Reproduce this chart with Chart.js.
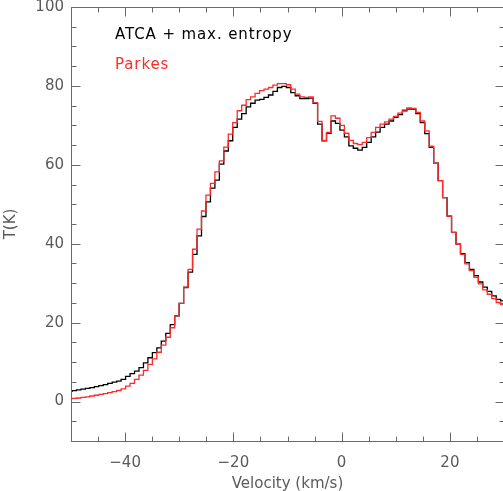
<!DOCTYPE html>
<html>
<head>
<meta charset="utf-8">
<script src="https://cdn.jsdelivr.net/npm/chart.js@4.4.1/dist/chart.umd.min.js"></script>
<style>
  html, body { margin: 0; padding: 0; background: #fff; overflow: hidden; }
  canvas { display: block; }
</style>
</head>
<body>
<canvas id="spectrumChart" width="506" height="491"></canvas>
<script>
// Channel velocities (km/s), channel width ~0.825 km/s
const velocity = [
  -50.23, -49.40, -48.58, -47.75, -46.93, -46.10, -45.28, -44.45, -43.63, -42.80,
  -41.98, -41.15, -40.33, -39.50, -38.68, -37.85, -37.03, -36.20, -35.38, -34.55,
  -33.73, -32.90, -32.08, -31.25, -30.43, -29.60, -28.78, -27.95, -27.13, -26.30,
  -25.48, -24.65, -23.83, -23.00, -22.18, -21.35, -20.53, -19.70, -18.88, -18.05,
  -17.23, -16.40, -15.58, -14.75, -13.93, -13.10, -12.28, -11.45, -10.63, -9.80,
  -8.98, -8.15, -7.33, -6.50, -5.68, -4.85, -4.03, -3.20, -2.38, -1.55,
  -0.73, 0.10, 0.92, 1.75, 2.57, 3.40, 4.22, 5.05, 5.87, 6.70,
  7.52, 8.35, 9.17, 10.00, 10.82, 11.65, 12.47, 13.30, 14.12, 14.95,
  15.77, 16.60, 17.42, 18.25, 19.07, 19.90, 20.72, 21.55, 22.37, 23.20,
  24.02, 24.85, 25.67, 26.50, 27.32, 28.15, 28.97, 29.80
];

// Brightness temperature T(K), ATCA + max. entropy
const atcaTemp = [
  2.6, 2.75, 2.95, 3.15, 3.35, 3.55, 3.8, 4.05, 4.3, 4.6,
  4.9, 5.2, 5.6, 6.4, 7.1, 7.7, 8.6, 9.8, 11.1, 12.4,
  13.6, 15.3, 17.3, 19.5, 21.7, 24.9, 28.9, 32.8, 37.3, 42.0,
  46.9, 50.6, 54.1, 56.1, 60.2, 63.5, 66.1, 69.5, 71.6, 73.0,
  74.7, 75.6, 76.4, 76.6, 77.1, 77.7, 78.6, 79.6, 79.9, 79.6,
  78.3, 77.5, 76.8, 76.8, 76.9, 75.6, 70.3, 66.1, 68.0, 71.1,
  70.5, 68.8, 67.1, 64.8, 64.2, 63.7, 64.4, 65.7, 67.1, 68.3,
  69.5, 70.3, 71.1, 72.0, 72.7, 73.7, 74.1, 74.1, 73.0, 70.7,
  67.9, 64.4, 60.4, 56.0, 51.7, 47.0, 42.9, 39.9, 37.5, 35.2,
  33.5, 31.9, 30.3, 29.0, 27.9, 26.8, 25.9, 25.5
];

// Brightness temperature T(K), Parkes single dish
const parkesTemp = [
  0.7, 0.8, 0.9, 1.05, 1.2, 1.4, 1.6, 1.8, 2.0, 2.25,
  2.5, 2.8, 3.2, 3.9, 4.6, 5.6, 6.7, 7.9, 9.4, 10.8,
  12.5, 14.3, 16.3, 18.7, 21.7, 24.9, 29.0, 33.5, 38.6, 43.7,
  48.3, 52.3, 55.3, 58.2, 61.0, 64.5, 67.8, 70.7, 73.7, 75.1,
  76.5, 77.2, 78.1, 78.8, 79.2, 79.6, 80.2, 80.6, 80.6, 80.3,
  79.2, 77.9, 77.2, 77.1, 77.2, 75.7, 71.0, 66.2, 68.2, 72.4,
  71.8, 70.0, 68.0, 66.2, 65.4, 65.1, 65.7, 66.9, 68.2, 69.5,
  70.3, 70.9, 71.6, 72.3, 73.1, 73.9, 74.4, 74.3, 73.3, 71.1,
  68.6, 64.7, 60.4, 56.0, 51.7, 47.0, 42.9, 39.9, 37.3, 34.9,
  33.2, 31.5, 29.8, 28.3, 27.2, 26.1, 25.1, 24.6
];

const xTickLabels = [-40, -20, 0, 20];
const yTickLabels = [0, 20, 40, 60, 80, 100];
const minorStep = 5;

const axisColor = '#6a6a6a';
const textColor = '#5a5a5a';
const fontFamily = '"DejaVu Sans", "Liberation Sans", sans-serif';

function fmtTick(v) {
    return v < 0 ? '\u2212' + Math.abs(v) : String(v);
}

// Boxed frame with inward ticks on all four sides, plus text legend
const idlFramePlugin = {
    id: 'idlFrame',
    afterDraw(chart) {
        const { ctx, chartArea: a, scales } = chart;
        const xs = scales.x, ys = scales.y;
        const left = Math.round(a.left) + 0.5, right = Math.round(a.right) + 0.5;
        const top = Math.round(a.top) + 0.5, bottom = Math.round(a.bottom) + 0.5;
        ctx.save();
        ctx.strokeStyle = axisColor;
        ctx.lineWidth = 1;
        ctx.beginPath();
        ctx.moveTo(left, top);
        ctx.lineTo(left, bottom);
        ctx.lineTo(right, bottom);
        ctx.lineTo(right, top);
        ctx.closePath();

        for (let v = Math.ceil(xs.min / minorStep) * minorStep; v <= xs.max; v += minorStep) {
            const len = xTickLabels.includes(v) ? 9 : 5;
            const px = Math.round(xs.getPixelForValue(v)) + 0.5;
            ctx.moveTo(px, bottom);
            ctx.lineTo(px, bottom - len);
            ctx.moveTo(px, top);
            ctx.lineTo(px, top + len);
        }
        for (let v = Math.ceil(ys.min / minorStep) * minorStep; v <= ys.max; v += minorStep) {
            const len = yTickLabels.includes(v) ? 9 : 5;
            const py = Math.round(ys.getPixelForValue(v)) + 0.5;
            ctx.moveTo(left, py);
            ctx.lineTo(left + len, py);
            ctx.moveTo(right, py);
            ctx.lineTo(right - len, py);
        }
        ctx.stroke();

        // legend as coloured text
        ctx.font = '15px ' + fontFamily;
        ctx.letterSpacing = '0.9px';
        ctx.textBaseline = 'middle';
        ctx.textAlign = 'left';
        chart.data.datasets.forEach((ds, i) => {
            ctx.fillStyle = ds.borderColor;
            ctx.fillText(ds.label, 115, 35 + i * 30);
        });
        ctx.restore();
    }
};

function makeSeries(temps) {
    return velocity.map((v, i) => ({ x: v, y: temps[i] }));
}

const ctx = document.getElementById('spectrumChart').getContext('2d');
new Chart(ctx, {
    type: 'line',
    data: {
        datasets: [
            {
                label: 'ATCA + max. entropy',
                data: makeSeries(atcaTemp),
                borderColor: '#000000',
                borderWidth: 1.3,
                pointRadius: 0,
                stepped: 'middle',
                fill: false,
                order: 2
            },
            {
                label: 'Parkes',
                data: makeSeries(parkesTemp),
                borderColor: '#ff2a2a',
                borderWidth: 1.3,
                pointRadius: 0,
                stepped: 'middle',
                fill: false,
                order: 1
            }
        ]
    },
    options: {
        responsive: false,
        animation: false,
        layout: { padding: { top: 7, right: 2, left: 0, bottom: 0 } },
        plugins: { legend: { display: false }, tooltip: { enabled: false } },
        scales: {
            x: {
                type: 'linear',
                min: -50,
                max: 30,
                grid: { display: false, drawTicks: false },
                border: { display: false },
                afterBuildTicks: s => { s.ticks = xTickLabels.map(v => ({ value: v })); },
                afterFit: s => { s.height = 50; s.paddingLeft = 0; s.paddingRight = 0; },
                ticks: {
                    callback: v => fmtTick(v),
                    color: textColor,
                    font: { family: fontFamily, size: 15, lineHeight: 1 },
                    padding: 15,
                    maxRotation: 0,
                    autoSkip: false
                },
                title: {
                    display: true,
                    text: 'Velocity (km/s)',
                    color: textColor,
                    font: { family: fontFamily, size: 15, lineHeight: 1 },
                    padding: { top: 0, bottom: -1 }
                }
            },
            y: {
                type: 'linear',
                min: -10,
                max: 100,
                grid: { display: false, drawTicks: false },
                border: { display: false },
                afterBuildTicks: s => { s.ticks = yTickLabels.map(v => ({ value: v })); },
                afterFit: s => { s.width = 71; s.paddingTop = 0; s.paddingBottom = 0; },
                ticks: {
                    callback: v => fmtTick(v),
                    color: textColor,
                    font: { family: fontFamily, size: 15, lineHeight: 1 },
                    padding: 7,
                    autoSkip: false
                },
                title: {
                    display: true,
                    text: 'T(K)',
                    color: textColor,
                    font: { family: fontFamily, size: 15, lineHeight: 1 },
                    padding: { top: 4, bottom: 0 }
                }
            }
        }
    },
    plugins: [idlFramePlugin]
});
</script>
</body>
</html>
